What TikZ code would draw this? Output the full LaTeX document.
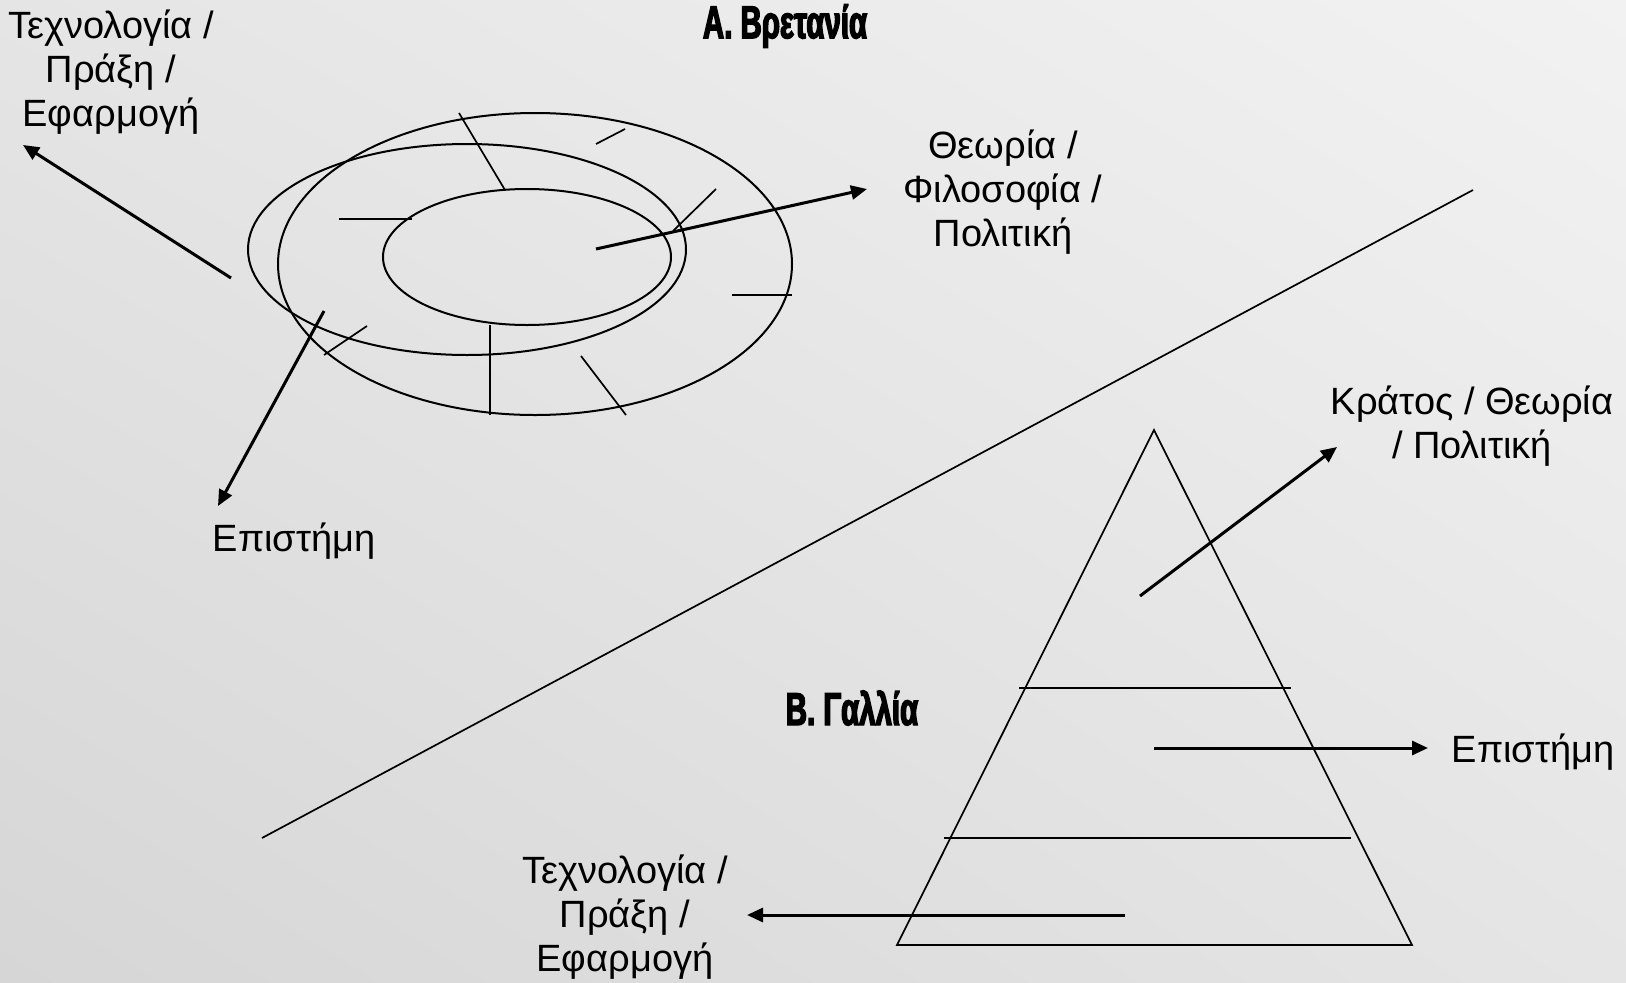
\documentclass[tikz,border=0pt]{standalone}
\usepackage{fontspec}
\setmainfont{Liberation Sans}
\newfontfamily\headfont{Liberation Sans}[FakeStretch=0.64,FakeBold=3]
\usetikzlibrary{arrows.meta,shadings}

\definecolor{bglight}{RGB}{242,242,242}
\definecolor{bgmid}{RGB}{229,229,229}
\definecolor{bgdark}{RGB}{214,214,214}

\begin{document}
\begin{tikzpicture}[x=1pt, y=-1pt,
  lbl/.style={align=center, inner sep=0pt, font=\fontsize{38}{44}\selectfont},
  ttl/.style={inner sep=0pt, font=\headfont\bfseries\fontsize{46}{50}\selectfont},
  arr/.style={line width=3pt, -{Triangle[length=16pt,width=14pt]}},
  ln/.style={line width=1.7pt},
  ring/.style={line width=2pt}
]
\shade[upper left=bgmid, upper right=bglight, lower left=bgdark, lower right=bgmid]
  (0,0) rectangle (1626,983);
\useasboundingbox (0,0) rectangle (1626,983);

% labels
\node[lbl] (techA)  at (111,72)   {Τεχνολογία /\\Πράξη /\\Εφαρμογή};
\node[ttl] (titA)   at (785,26)   {Α. Βρετανία};
\node[lbl] (theoA)  at (1003,192) {Θεωρία /\\Φιλοσοφία /\\Πολιτική};
\node[lbl] (sciA)   at (294,541)  {Επιστήμη};
\node[ttl] (titB)   at (852,708)  {Β. Γαλλία};
\node[lbl] (stateB) at (1472,426) {Κράτος / Θεωρία\\/ Πολιτική};
\node[lbl] (sciB)   at (1533,752) {Επιστήμη};
\node[lbl] (techB)  at (625,917)  {Τεχνολογία /\\Πράξη /\\Εφαρμογή};

% divider
\coordinate (dv1) at (262,838);
\coordinate (dv2) at (1473,190);
\draw[ln] (dv1) -- (dv2);

% Britain: rings
\coordinate (ringO) at (535,264);
\coordinate (ringM) at (467,249.5);
\coordinate (ringI) at (527,257);
\draw[ring] (ringO) ellipse [x radius=257, y radius=151];
\draw[ring] (ringM) ellipse [x radius=219, y radius=105.5];
\draw[ring] (ringI) ellipse [x radius=144, y radius=68];

\draw[ln] (459,113) -- (505,190);
\draw[ln] (596,144) -- (625,129);
\draw[ln] (339,219) -- (412,219);
\draw[ln] (673,231) -- (716,189);
\draw[ln] (732,295) -- (792,295);
\draw[ln] (324,355) -- (367,326);
\draw[ln] (490,325) -- (490,415);
\draw[ln] (581,356) -- (626,415);

\coordinate (aT1) at (231,278);
\coordinate (aT2) at (23,145);
\coordinate (aP1) at (596,249);
\coordinate (aP2) at (867,189);
\coordinate (aS1) at (324,311);
\coordinate (aS2) at (218,506);
\draw[arr] (aT1) -- (aT2);
\draw[arr] (aP1) -- (aP2);
\draw[arr] (aS1) -- (aS2);

% France: pyramid
\coordinate (apex) at (1154,430);
\coordinate (bl) at (897,945);
\coordinate (br) at (1412,945);
\draw[ln] (apex) -- (br) -- (bl) -- cycle;
\draw[ln] (1019,688) -- (1291,688);
\draw[ln] (944,838) -- (1351,838);

\coordinate (bK1) at (1140,596);
\coordinate (bK2) at (1337,447);
\coordinate (bS1) at (1154,748);
\coordinate (bS2) at (1428,748);
\coordinate (bT1) at (1125,915);
\coordinate (bT2) at (747,915);
\draw[arr] (bK1) -- (bK2);
\draw[arr] (bS1) -- (bS2);
\draw[arr] (bT1) -- (bT2);
\end{tikzpicture}
\end{document}
